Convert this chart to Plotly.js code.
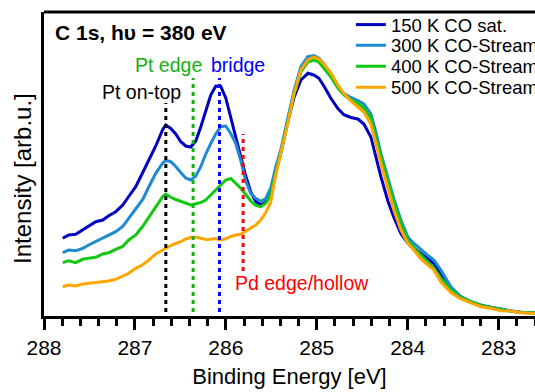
<!DOCTYPE html>
<html>
<head>
<meta charset="utf-8">
<script src="https://cdn.plot.ly/plotly-3.0.1.min.js"></script>
<style>html,body{margin:0;padding:0;background:#fff}#chart{width:535px;height:392px}</style>
</head>
<body>
<div id="chart"></div>
<script>
// Binding energy grid [eV]
const energy = [287.794, 287.728, 287.651, 287.574, 287.508, 287.431, 287.354, 287.288, 287.211, 287.134,
  287.068, 286.991, 286.914, 286.848, 286.771, 286.694, 286.661, 286.606, 286.551, 286.496,
  286.441, 286.386, 286.331, 286.276, 286.221, 286.166, 286.111, 286.056, 286.001, 285.946,
  285.891, 285.836, 285.781, 285.726, 285.671, 285.616, 285.561, 285.506, 285.451, 285.396,
  285.318, 285.252, 285.175, 285.098, 285.032, 284.977, 284.922, 284.845, 284.768, 284.702,
  284.625, 284.548, 284.482, 284.405, 284.350, 284.295, 284.218, 284.152, 284.075, 283.998,
  283.932, 283.855, 283.778, 283.712, 283.635, 283.525, 283.415, 283.305, 283.195, 283.085,
  282.975, 282.865, 282.755, 282.590];

// Intensities [arb.u.]
const i150K = [78.7, 82, 82.7, 87, 90.3, 95.3, 97, 101.3, 105.3, 112,
  120.5, 130.3, 144.5, 156.5, 171, 187.5, 192, 188.5, 183, 175.3,
  171, 170, 176, 190, 206, 222, 231, 230.5, 219, 200,
  180, 160.3, 141, 125, 115.5, 112, 115, 125, 146, 163.7,
  196, 219, 237, 243.7, 242, 238.7, 231, 218.7, 208.5, 202.3,
  199.5, 198, 193, 180, 160.3, 140.3, 116, 99.5, 83.5, 73.7,
  68.7, 63.7, 58, 53.5, 42, 28.7, 20, 15, 11.5, 9.5,
  7.5, 6, 4.7, 4];
const i300K = [64.3, 67, 66.3, 68.7, 72, 75.3, 78.7, 81.3, 85.3, 90.5,
  98.5, 107, 117.5, 130, 143.7, 154, 156.5, 155.3, 150.5, 144.5,
  139, 137, 141, 150.3, 163, 173.5, 183, 190.3, 191, 183.5,
  173.7, 156.5, 136, 123.5, 118.7, 115.8, 118.5, 129, 150, 167,
  198.5, 226, 250.3, 260.5, 261.5, 258.7, 253, 243.5, 230, 223.5,
  219.5, 216.5, 213, 203, 185, 163.7, 139, 118, 97, 80,
  73.5, 67, 61.5, 57, 47, 30.3, 20.3, 15.3, 12, 9.7,
  7.7, 6, 4.7, 4.3];
const i400K = [54.3, 56.3, 54.3, 57.7, 58.7, 59.7, 63, 64.3, 67.7, 70.5,
  77, 82, 90.7, 100, 110.3, 120.5, 123, 119.7, 117.5, 115.5,
  113.2, 112, 113.2, 114.5, 117, 122, 128, 133, 137, 138.5,
  134, 128.7, 122.5, 116, 111.5, 110.3, 113.7, 122, 144, 164,
  195, 222, 245, 255, 257, 255, 249, 240, 229, 222,
  217, 214, 209, 199, 179, 160.3, 136, 115, 93.7, 77,
  69, 62, 55, 49, 39, 27, 19.3, 15, 11.5, 9.2,
  7.2, 5.8, 4.5, 4];
const i500K = [30.3, 32, 31, 33, 33.7, 34.3, 35.3, 36, 37.7, 40.5,
  43.7, 48.7, 52.2, 56.8, 63, 67, 68.7, 71.5, 73.5, 75.3,
  78, 79.5, 80, 78.7, 77.5, 77.7, 78.5, 77, 78.2, 80.5,
  82, 82.7, 86, 88.5, 92, 97, 104.5, 115, 142, 163.7,
  194, 223, 247, 257, 260.2, 258, 253, 244, 232, 223.5,
  216, 210, 205, 193, 172, 153.7, 129, 107, 87, 73.5,
  67, 58, 52, 47, 35, 24.5, 18, 14.3, 10.3, 8.7,
  6.3, 6, 4.3, 3.5];

const seriesNames = ['150 K CO sat.', '300 K CO-Stream', '400 K CO-Stream', '500 K CO-Stream'];
const seriesData = [i150K, i300K, i400K, i500K];
const seriesColors = ['#0000c0', '#1e8ad2', '#12c812', '#ffa500'];

// Adsorption site markers
const siteLabels = ['Pt on-top', 'Pt edge', 'bridge', 'Pd edge/hollow'];
const siteEnergy = [286.66, 286.36, 286.07, 285.81];
const siteTop = [214, 239, 239, 183];
const siteBottom = [5, 5, 5, 46];
const siteColors = ['#000000', '#16b016', '#0000ff', '#ff0000'];
const siteLabelX = [286.925, 286.628, 285.863, 285.159];
const siteLabelY = [225, 252, 252, 34];

const FONT = 'Liberation Sans, Arial, Helvetica, sans-serif';
const legendIds = ['legend', 'legend2', 'legend3', 'legend4'];
const legendRowY = [0.957, 0.889, 0.820, 0.751];

const traces = [];
seriesNames.forEach((n, k) => {
  traces.push({
    x: energy, y: seriesData[k], name: n, type: 'scatter', mode: 'lines',
    line: {color: seriesColors[k], width: 3}, legend: legendIds[k], showlegend: true
  });
});
siteLabels.forEach((n, k) => {
  traces.push({
    x: [siteEnergy[k], siteEnergy[k]], y: [siteBottom[k], siteTop[k]], mode: 'lines',
    line: {color: siteColors[k], width: 3, dash: '4px,4px'}, showlegend: false, hoverinfo: 'skip'
  });
});

const annotations = [{
  text: '<b>C 1s, hυ = 380 eV</b>', xref: 'paper', yref: 'paper', x: 0.0183, y: 0.931,
  xanchor: 'left', yanchor: 'middle', showarrow: false, font: {family: FONT, size: 21, color: '#000'}
}, {
  text: 'Intensity [arb.u.]', xref: 'paper', yref: 'paper', x: -0.0428, y: 0.454,
  xanchor: 'center', yanchor: 'middle', textangle: -90, showarrow: false,
  font: {family: FONT, size: 24, color: '#000'}
}];
siteLabels.forEach((n, k) => {
  annotations.push({
    text: n, x: siteLabelX[k], y: siteLabelY[k], xref: 'x', yref: 'y', showarrow: false,
    xanchor: 'center', yanchor: 'middle', font: {family: FONT, size: 19.5, color: siteColors[k] === '#000000' ? '#000' : siteColors[k]}
  });
});

const layout = {
  width: 535, height: 392,
  margin: {l: 44, r: 0, t: 12, b: 76, pad: 0, autoexpand: false},
  paper_bgcolor: '#fff', plot_bgcolor: '#fff',
  font: {family: FONT, color: '#000'},
  xaxis: {
    range: [288, 282.6], dtick: 1, tick0: 288, showgrid: false, zeroline: false,
    showline: true, linewidth: 3, linecolor: '#000',
    ticks: 'outside', ticklen: 11, tickwidth: 3, tickcolor: '#000',
    minor: {dtick: 0.2, ticks: 'outside', ticklen: 7, tickwidth: 3, tickcolor: '#000', showgrid: false},
    tickfont: {family: FONT, size: 21, color: '#000'},
    title: {text: 'Binding Energy [eV]', font: {family: FONT, size: 22, color: '#000'}, standoff: 11},
    automargin: false
  },
  yaxis: {
    range: [1, 305], showgrid: false, zeroline: false, showticklabels: false, ticks: '',
    showline: true, linewidth: 3, linecolor: '#000', automargin: false
  },
  shapes: [{type: 'line', xref: 'paper', yref: 'paper', x0: 0, x1: 1, y0: 1, y1: 1,
    line: {color: '#000', width: 3}}],
  annotations: annotations,
  showlegend: true
};
legendIds.forEach((id, k) => {
  layout[id] = {x: 0.625, y: legendRowY[k], xanchor: 'left', yanchor: 'middle',
    bgcolor: 'rgba(0,0,0,0)', borderwidth: 0, font: {family: FONT, size: 18.5, color: '#000'}};
});

Plotly.newPlot('chart', traces, layout, {displayModeBar: false, staticPlot: true});
</script>
</body>
</html>
